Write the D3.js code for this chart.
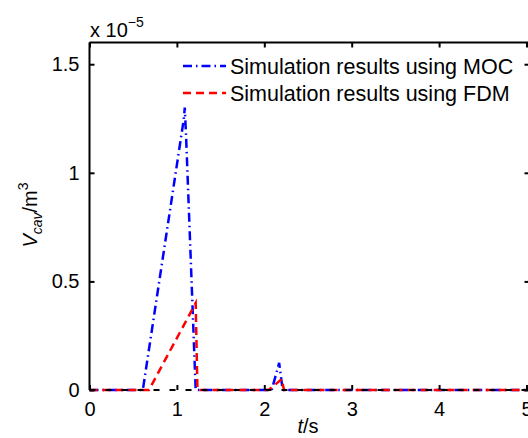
<!DOCTYPE html>
<html>
<head>
<meta charset="utf-8">
<script src="https://cdn.jsdelivr.net/npm/d3@7"></script>
<style>
  body { margin: 0; background: #fff; }
  svg { font-family: "Liberation Sans", Arial, sans-serif; }
</style>
</head>
<body>
<script>
var svgWidth = 528;
var svgHeight = 438;

// data (volume in units of 1e-5 m^3)
var mocTime  = [0, 0.61, 1.08, 1.09, 1.105, 1.215, 2.085, 2.17, 2.21, 5];
var mocValue = [0, 0,    1.25, 1.30, 1.17,  0,     0,     0.125, 0,   0];
var fdmTime  = [0, 0.68, 1.215, 1.235, 2.05, 2.20, 2.225, 5];
var fdmValue = [0, 0,    0.40,  0,     0,    0.05, 0,     0];

var xTicks = [0, 1, 2, 3, 4, 5];
var yTicks = [0, 0.5, 1, 1.5];
var legendLabels = ["Simulation results using MOC", "Simulation results using FDM"];

var margin = {left: 89.5, top: 42.5, bottom: 390};

var svg = d3.select("body").append("svg")
  .attr("width", svgWidth)
  .attr("height", svgHeight);

var x = d3.scaleLinear().domain([0, 5]).range([margin.left, 526.5]);
var y = d3.scaleLinear().domain([0, 1.6]).range([margin.bottom, margin.top]);

var line = d3.line()
  .x(d => x(d[0]))
  .y(d => y(d[1]));

var mocData = mocTime.map((t, i) => [t, mocValue[i]]);
var fdmData = fdmTime.map((t, i) => [t, fdmValue[i]]);

// data lines
svg.append("path")
  .datum(mocData)
  .attr("d", line)
  .attr("fill", "none")
  .attr("stroke", "#0000ff")
  .attr("stroke-width", 2.5)
  .attr("stroke-dasharray", "9,4,1.5,4");

svg.append("path")
  .datum(fdmData)
  .attr("d", line)
  .attr("fill", "none")
  .attr("stroke", "#ff0000")
  .attr("stroke-width", 2.5)
  .attr("stroke-dasharray", "8,5");

// frame (right edge falls outside the picture)
var right = x(5) + 3;
svg.append("path")
  .attr("d", `M${margin.left},${margin.top}H${right}M${margin.left},${margin.top}V${margin.bottom}`)
  .attr("stroke", "#000")
  .attr("stroke-width", 2)
  .attr("fill", "none");

svg.append("line")
  .attr("x1", margin.left).attr("x2", right)
  .attr("y1", margin.bottom).attr("y2", margin.bottom)
  .attr("stroke", "#000")
  .attr("stroke-width", 2)
  .attr("stroke-dasharray", "6,10");

// axes with inward ticks
var xAxis = svg.append("g")
  .attr("transform", `translate(0,${margin.bottom})`)
  .call(d3.axisBottom(x).tickValues(xTicks).tickSize(-5).tickPadding(12).tickFormat(d3.format("d")));
var xAxisTop = svg.append("g")
  .attr("transform", `translate(0,${margin.top})`)
  .call(d3.axisTop(x).tickValues(xTicks).tickSize(-5).tickFormat(""));
var yAxis = svg.append("g")
  .attr("transform", `translate(${margin.left},0)`)
  .call(d3.axisLeft(y).tickValues(yTicks).tickSize(-5).tickPadding(10).tickFormat(d => d === 0 ? "0" : String(d)));
var yAxisRight = svg.append("g")
  .attr("transform", `translate(${right},0)`)
  .call(d3.axisRight(y).tickValues(yTicks).tickSize(-5).tickFormat(""));

[xAxis, xAxisTop, yAxis, yAxisRight].forEach(g => {
  g.select(".domain").remove();
  g.selectAll(".tick line").attr("stroke", "#000").attr("stroke-width", 2);
  g.selectAll("text").attr("font-size", 20).attr("fill", "#000")
    .attr("font-family", "'Liberation Sans', Arial, sans-serif");
});

// exponent label
var expo = svg.append("text")
  .attr("x", 90).attr("y", 37)
  .attr("font-size", 20);
expo.append("tspan").text("x 10");
expo.append("tspan").attr("dy", -10).attr("font-size", 14).text("\u22125");

// axis labels
var xl = svg.append("text")
  .attr("x", 308).attr("y", 433)
  .attr("text-anchor", "middle")
  .attr("font-size", 20);
xl.append("tspan").attr("font-style", "italic").text("t");
xl.append("tspan").text("/s");

var yl = svg.append("text")
  .attr("transform", "translate(37,215) rotate(-90)")
  .attr("text-anchor", "middle")
  .attr("font-size", 20);
yl.append("tspan").attr("font-style", "italic").text("V");
yl.append("tspan").attr("font-style", "italic").attr("font-size", 14).attr("dy", 5).text("cav");
yl.append("tspan").attr("dy", -5).text("/m");
yl.append("tspan").attr("font-size", 14).attr("dy", -9).text("3");

// legend
var legend = svg.append("g");
var legendStyles = [
  {color: "#0000ff", dash: "9,4,1.5,4"},
  {color: "#ff0000", dash: "8,5"}
];
legendLabels.forEach((label, i) => {
  var ly = 66 + i * 27;
  legend.append("line")
    .attr("x1", 183).attr("x2", 226)
    .attr("y1", ly).attr("y2", ly)
    .attr("stroke", legendStyles[i].color)
    .attr("stroke-width", 2.5)
    .attr("stroke-dasharray", legendStyles[i].dash);
  legend.append("text")
    .attr("x", 230).attr("y", ly + 8)
    .attr("font-size", 21.5)
    .text(label);
});
</script>
</body>
</html>
